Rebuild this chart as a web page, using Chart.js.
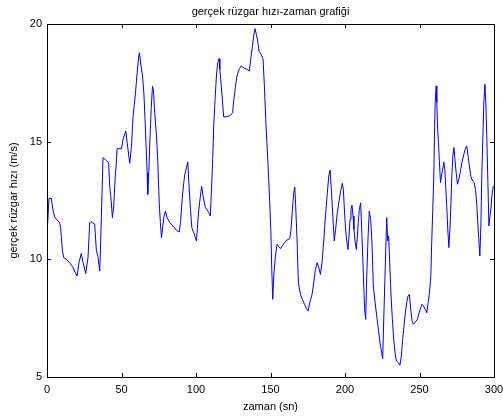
<!DOCTYPE html>
<html>
<head>
<meta charset="utf-8">
<script src="https://cdn.jsdelivr.net/npm/chart.js@4"></script>
<style>
  html, body { margin:0; padding:0; background:#fff; }
  #chart { display:block; }
</style>
</head>
<body>
<canvas id="chart" width="503" height="419"></canvas>
<script>
// ── Data ──────────────────────────────────────────
const TITLE = "gerçek rüzgar hızı-zaman grafiği";
const X_LABEL = "zaman (sn)";
const Y_LABEL = "gerçek rüzgar hızı (m/s)";

const timeSec = [
  0, 1.3, 2.9, 4, 5.2, 6.3, 8.5, 9.2, 10.3, 11.2, 13, 15.2, 17.5, 19, 20.2, 21.5, 23, 24.2, 26, 27.5,
  28.7, 29.3, 32, 33.1, 34.3, 35.4, 36, 36.7, 37.6, 39.9, 41.4, 42.1, 43, 43.9, 44.8, 45.7, 46.6, 47, 50, 51,
  52.9, 53.8, 55.5, 56.7, 57.8, 59.4, 60.5, 61.6, 62, 62.9, 64, 65, 65.8, 66.5, 67.2, 67.6, 68.3, 69, 69.9, 70.8,
  71.4, 72.3, 73.5, 74.4, 75.3, 76.1, 76.8, 77.7, 78.6, 79.5, 80.6, 82.4, 84.7, 86.9, 88.7, 89.6, 90.9, 92.3, 93.6, 94.5,
  95.2, 96.3, 97.2, 98.5, 100.3, 101.5, 102.4, 103.8, 104.7, 106.3, 108.5, 109.6, 110.3, 111.2, 111.9, 112.8, 113.7, 114.6, 115.5, 116,
  116.6, 117.5, 118.6, 120.9, 123.1, 124.6, 125.3, 126.4, 127.5, 128.9, 130.4, 132, 134.3, 135.8, 137, 137.9, 138.7, 139.6, 140.5, 141.4,
  142.3, 143.7, 145, 145.9, 146.8, 147.7, 148.6, 149.5, 150.2, 150.8, 151.5, 152.2, 153.3, 154.4, 155.5, 156.7, 157.8, 159.4, 161.1, 162.9,
  163.8, 164.7, 165.6, 166.3, 166.9, 167.8, 168.7, 170.1, 171.4, 172.8, 174.1, 175.2, 176.3, 177.9, 179, 180.1, 181.3, 182.4, 183.5, 184.6,
  185.8, 186.9, 188, 189.1, 190, 190.9, 192.2, 192.8, 193.7, 194.8, 196, 197.1, 198.2, 198.9, 199.6, 200.4, 201.3, 202, 202.7, 203.4,
  204, 204.7, 205.4, 206, 206.9, 207.6, 208.3, 208.9, 209.6, 210.5, 211.2, 211.9, 212.5, 213.2, 213.9, 214.6, 215.5, 216.3, 217.2, 218.1,
  219, 220.2, 221.3, 222.4, 223.5, 224.6, 225.3, 226.2, 227.1, 228, 228.7, 229.3, 230, 230.9, 231.8, 232.7, 233.6, 234.5, 235.8, 236.9,
  237.8, 238.7, 239.6, 240.5, 241.4, 242.3, 243.2, 244.1, 245, 245.9, 247.2, 248.6, 249.9, 250.8, 251.7, 252.6, 253.8, 254.9, 255.8, 256.7,
  257.6, 258.2, 258.9, 259.6, 260, 260.5, 261.2, 261.6, 262.1, 262.7, 263.4, 264.1, 264.7, 265.6, 266.3, 267, 267.7, 268.4, 269, 269.7,
  270.4, 271.1, 271.7, 272.4, 273.1, 273.8, 274.6, 275.5, 276.4, 277.3, 278.4, 279.5, 280.6, 281.7, 282.6, 283.5, 284.4, 285.3, 286.7, 287.6,
  288.5, 289.1, 289.8, 290.5, 291.2, 291.8, 292.5, 293.2, 293.9, 294.6, 295.2, 295.9, 296.6, 297.3, 297.9, 298.6, 299.5, 300
];

const windSpeed = [
  11.0, 12.58, 12.6, 12.1, 11.8, 11.7, 11.56, 11.3, 10.4, 10.07, 10.0, 9.86, 9.65, 9.43, 9.29, 9.86, 10.25, 9.86, 9.4, 10.07,
  11.56, 11.6, 11.5, 10.4, 10.07, 9.5, 10.7, 12.27, 14.32, 14.2, 14.1, 13.1, 12.55, 11.77, 12.27, 13.4, 14.18, 14.7, 14.7, 15.1,
  15.45, 14.96, 14.08, 14.8, 16.1, 17.08, 17.93, 18.64, 18.78, 18.3, 17.86, 17.08, 15.95, 14.82, 13.68, 12.76, 13.68, 14.96, 16.37, 17.36,
  17.2, 16.23, 15.24, 14.1, 12.4, 11.56, 10.92, 11.4, 11.84, 12.05, 11.77, 11.56, 11.4, 11.23, 11.16, 11.56, 12.7, 13.54, 13.9, 14.14,
  13.26, 12.12, 11.35, 11.13, 10.78, 11.84, 12.4, 13.1, 12.7, 12.2, 12.0, 11.84, 12.83, 14.25, 15.67, 16.8, 17.79, 18.36, 18.53, 18.07,
  17.65, 16.94, 16.05, 16.06, 16.12, 16.23, 16.73, 17.3, 17.79, 18.07, 18.22, 18.14, 18.07, 18.0, 18.64, 19.07, 19.49, 19.8, 19.56, 19.28,
  18.85, 18.71, 18.5, 17.37, 15.95, 14.82, 13.68, 12.4, 11.27, 9.72, 8.3, 9.29, 10.14, 10.64, 10.54, 10.45, 10.57, 10.71, 10.82, 10.88,
  11.27, 12.12, 12.83, 13.07, 12.27, 10.85, 9.0, 8.51, 8.3, 8.09, 7.9, 7.8, 8.16, 8.51, 9.0, 9.57, 9.86, 9.65, 9.36, 9.86,
  10.85, 11.84, 12.7, 13.54, 13.8, 12.9, 11.42, 10.78, 11.27, 11.98, 12.48, 12.9, 13.23, 12.97, 12.12, 11.27, 10.71, 10.42, 10.99, 11.7,
  12.12, 12.3, 11.84, 11.27, 10.71, 10.42, 10.99, 11.56, 12.12, 12.4, 11.27, 10.14, 9.0, 7.88, 7.45, 9.29, 10.99, 12.05, 11.7, 10.71,
  8.87, 8.16, 7.59, 7.03, 6.46, 6.03, 5.78, 7.88, 9.86, 11.77, 10.78, 10.99, 9.86, 8.44, 7.45, 6.6, 6.03, 5.68, 5.61, 5.5,
  5.89, 6.6, 7.17, 7.73, 8.16, 8.44, 8.51, 7.88, 7.38, 7.24, 7.34, 7.45, 7.76, 7.95, 8.09, 8.02, 7.88, 7.73, 8.16, 8.58,
  9.29, 10.71, 12.12, 13.54, 15.1, 16.66, 17.37, 16.66, 15.67, 14.96, 14.1, 13.26, 13.54, 13.82, 14.14, 13.82, 12.97, 12.12, 11.27, 10.5,
  11.27, 12.4, 13.54, 14.39, 14.75, 14.25, 13.68, 13.19, 13.4, 13.68, 14.1, 14.39, 14.67, 14.82, 14.39, 13.97, 13.54, 13.37, 13.26, 12.97,
  12.27, 11.56, 10.85, 10.14, 11.42, 13.54, 15.1, 16.66, 17.44, 16.52, 15.1, 13.26, 11.42, 11.84, 12.12, 12.7, 13.1, 13.1
];

const xTicks = [0, 50, 100, 150, 200, 250, 300];
const yTicks = [5, 10, 15, 20];

const FONT = { family: "'Liberation Sans', Arial, sans-serif", size: 11 };

// ── MATLAB-style box, inward ticks and title ──────
const matlabFrame = {
  id: "matlabFrame",
  afterDraw(chart) {
    const { ctx, chartArea: a, scales } = chart;
    const len = 4;
    ctx.save();
    ctx.strokeStyle = "#000";
    ctx.lineWidth = 1;
    ctx.beginPath();
    xTicks.forEach(v => {
      const x = Math.round(scales.x.getPixelForValue(v)) + 0.5;
      ctx.moveTo(x, a.bottom); ctx.lineTo(x, a.bottom - len);
      ctx.moveTo(x, a.top); ctx.lineTo(x, a.top + len);
    });
    yTicks.forEach(v => {
      const y = Math.round(scales.y.getPixelForValue(v)) + 0.5;
      ctx.moveTo(a.left, y); ctx.lineTo(a.left + len, y);
      ctx.moveTo(a.right, y); ctx.lineTo(a.right - len, y);
    });
    ctx.stroke();
    ctx.strokeRect(Math.round(a.left) + 0.5, Math.round(a.top) + 0.5,
                   Math.round(a.right - a.left), Math.round(a.bottom - a.top));

    ctx.fillStyle = "#000";
    ctx.font = `${FONT.size}px ${FONT.family}`;
    ctx.textAlign = "center";
    ctx.textBaseline = "middle";
    ctx.fillText(TITLE, (a.left + a.right) / 2, 12);
    ctx.restore();
  }
};

new Chart(document.getElementById("chart"), {
  type: "line",
  data: {
    datasets: [{
      data: timeSec.map((t, i) => ({ x: t, y: windSpeed[i] })),
      borderColor: "#0000ff",
      borderWidth: 1,
      pointRadius: 0,
      tension: 0,
      fill: false,
    }],
  },
  options: {
    responsive: false,
    animation: false,
    layout: { padding: { top: 24, right: 9, left: 0, bottom: 0 } },
    plugins: { legend: { display: false }, tooltip: { enabled: false }, title: { display: false } },
    scales: {
      x: {
        type: "linear",
        min: 0, max: 300,
        afterBuildTicks: s => { s.ticks = xTicks.map(v => ({ value: v })); },
        afterFit: s => { s.height = 42; s.paddingLeft = 0; s.paddingRight = 0; },
        grid: { display: false, drawTicks: false },
        border: { display: false },
        ticks: { color: "#000", font: FONT, padding: 6, maxRotation: 0 },
        title: { display: true, text: X_LABEL, color: "#000", font: FONT, padding: { top: 0, bottom: 5 } },
      },
      y: {
        min: 5, max: 20,
        afterBuildTicks: s => { s.ticks = yTicks.map(v => ({ value: v })); },
        afterFit: s => { s.width = 47; s.paddingTop = 0; s.paddingBottom = 0; },
        grid: { display: false, drawTicks: false },
        border: { display: false },
        ticks: { color: "#000", font: FONT, padding: 5 },
        title: { display: true, text: Y_LABEL, color: "#000", font: FONT, padding: { top: 7, bottom: 0 } },
      },
    },
  },
  plugins: [matlabFrame],
});
</script>
</body>
</html>
